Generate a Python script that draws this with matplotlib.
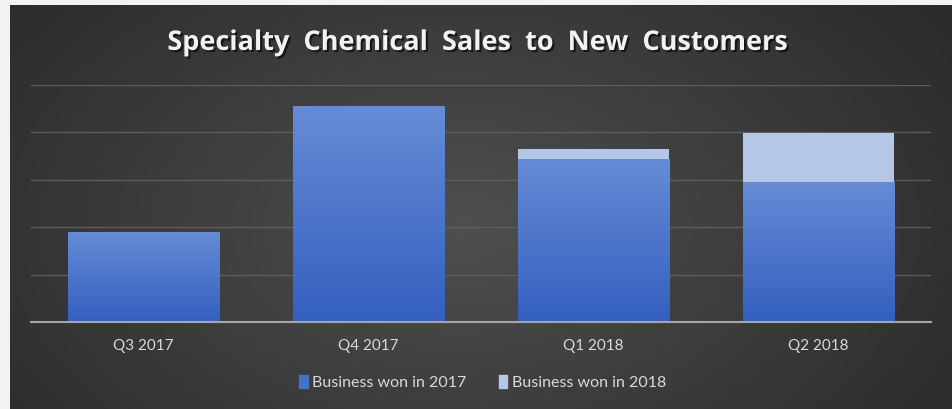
import numpy as np
import matplotlib.pyplot as plt
import matplotlib.patheffects as pe
from matplotlib.patches import Patch

plt.rcParams['font.family'] = ['Lato', 'DejaVu Sans']

quarters = ["Q3 2017", "Q4 2017", "Q1 2018", "Q2 2018"]
won_2017 = [1.90, 4.56, 3.44, 2.96]
won_2018 = [0.0, 0.0, 0.22, 1.03]
series_labels = ["Business won in 2017", "Business won in 2018"]
title = "Specialty  Chemical  Sales  to  New  Customers"

BLUE_TOP = np.array([0x66, 0x8c, 0xd6]) / 255
BLUE_BOT = np.array([0x33, 0x5f, 0xbf]) / 255
LIGHT = "#b4c7e7"
TXT = "#d9d9d9"

fig = plt.figure(figsize=(9.52, 4.09), dpi=100)
fig.patch.set_facecolor("#f2f2f2")

# dark radial-ish background panel
bg = fig.add_axes([10 / 952, 0, 942 / 952, 404 / 409], zorder=0)
yy, xx = np.mgrid[0:1:200j, 0:1:400j]
r = np.sqrt(((xx - 0.48) / 0.75) ** 2 + ((yy - 0.55) / 1.1) ** 2)
shade = np.clip(0.31 - 0.17 * r, 0.15, 0.31)
bg.imshow(np.dstack([shade, shade, shade]), aspect="auto", extent=(0, 1, 0, 1))
bg.axis("off")

ax = fig.add_axes([31 / 952, 86.7 / 409, 900 / 952, 237.3 / 409], zorder=1)
ax.patch.set_alpha(0)
x = np.arange(len(quarters))
width = 0.675

b1 = ax.bar(x, won_2017, width, color=BLUE_BOT, zorder=3, linewidth=0)
b2 = ax.bar(x, won_2018, width, bottom=won_2017, color=LIGHT, zorder=3,
            linewidth=0)

# vertical gradient on the blue bars
grad = np.linspace(0, 1, 100)[:, None, None]
cimg = BLUE_TOP * (1 - grad) + BLUE_BOT * grad
for rect in b1:
    x0, y0 = rect.get_x(), rect.get_y()
    im = ax.imshow(cimg, aspect="auto", zorder=3.5,
                   extent=(x0, x0 + rect.get_width(), y0, y0 + rect.get_height()))
    im.set_clip_path(rect)

ax.set_xlim(-0.5, 3.5)
ax.set_ylim(0, 5)
ax.set_yticks([1, 2, 3, 4, 5])
ax.yaxis.grid(True, color="#5c5c5c", lw=1)
ax.set_axisbelow(True)
ax.tick_params(axis="y", left=False, labelleft=False)
ax.tick_params(axis="x", length=0, pad=12, labelsize=11, labelcolor=TXT)
ax.set_xticks(x)
ax.set_xticklabels(quarters)
for s in ["top", "right", "left"]:
    ax.spines[s].set_visible(False)
ax.spines["bottom"].set_color("#a6a6a6")
ax.spines["bottom"].set_linewidth(1.5)
ax.spines["bottom"].set_zorder(5)

fig.text(0.502, 0.895, title, ha="center", va="center", color="#f2f2f2",
         fontsize=19.5, fontweight="bold", family=["Open Sans", "DejaVu Sans"],
         path_effects=[pe.withSimplePatchShadow(offset=(1.5, -1.5),
                                                shadow_rgbFace="black",
                                                alpha=0.6)])

handles = [Patch(color="#4472c4"), Patch(color=LIGHT)]
leg = fig.legend(handles, series_labels, loc="center", ncol=2,
                 bbox_to_anchor=(0.507, 0.064), frameon=False,
                 fontsize=11.5, handlelength=0.55, handleheight=0.8,
                 handletextpad=0.3, columnspacing=2.0)
for t in leg.get_texts():
    t.set_color(TXT)

fig.savefig("out.png", dpi=100, facecolor=fig.get_facecolor())
